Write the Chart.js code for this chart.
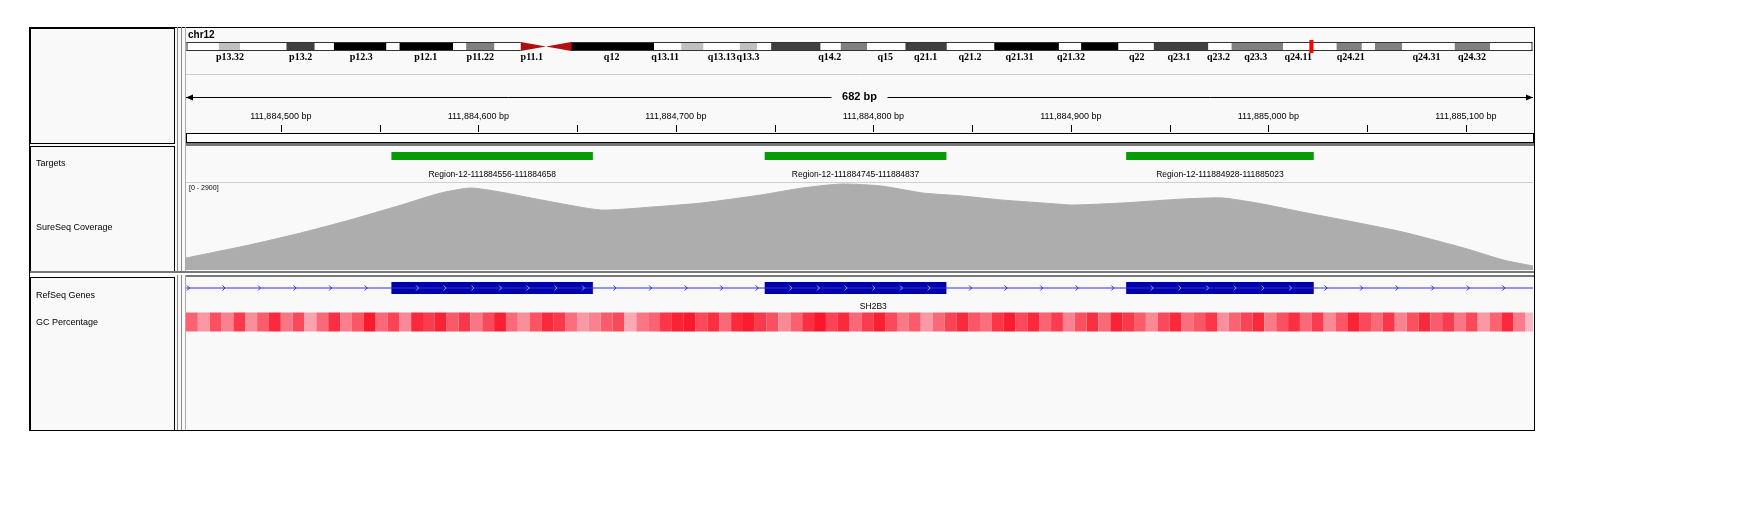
<!DOCTYPE html>
<html>
<head>
<meta charset="utf-8">
<script src="https://cdn.jsdelivr.net/npm/chart.js@4"></script>
<style>
html,body{margin:0;padding:0;background:#fff;}
#wrap{width:1756px;height:513px;position:relative;}
</style>
</head>
<body>
<div id="wrap"><canvas id="igv"></canvas></div>
<script>
// genomic window (chr12, offsets from 111,884,000)
var BASE = 111884000;
var viewStart = 452, viewEnd = 1134;
var tickLabels = [500, 600, 700, 800, 900, 1000, 1100];

// coverage (bp offset, depth)
var covPos = [452,484,510,535,561,581,596,611,632,662,688,713,743,764,784,804,825,845,865,886,901,926,957,977,997,1017,1038,1068,1099,1119,1134];
var covVal = [400,833,1233,1667,2167,2567,2733,2600,2333,2000,2100,2233,2500,2733,2867,2800,2567,2467,2333,2233,2167,2233,2367,2400,2200,1933,1667,1267,733,333,133];
var covMax = 2900;

// targets / exons
var targetStart = [556, 745, 928];
var targetEnd = [658, 837, 1023];
var targetNames = ["Region-12-111884556-111884658","Region-12-111884745-111884837","Region-12-111884928-111885023"];
var geneName = "SH2B3";

// GC percentage, one value per 6 bp (estimated)
var gcVal = [0.72,0.55,0.78,0.62,0.85,0.58,0.74,0.9,0.66,0.8,0.52,0.7,0.88,0.63,0.76,0.95,0.7,0.82,0.6,0.9,
  0.84,0.92,0.75,0.86,0.66,0.8,0.93,0.7,0.58,0.77,0.9,0.85,0.68,0.55,0.62,0.74,0.8,0.5,0.66,0.72,
  0.86,0.92,0.95,0.8,0.88,0.7,0.9,0.94,0.85,0.78,0.6,0.73,0.88,0.96,0.82,0.9,0.7,0.84,0.93,0.8,
  0.65,0.74,0.55,0.7,0.82,0.9,0.76,0.68,0.86,0.94,0.8,0.9,0.72,0.84,0.62,0.78,0.88,0.7,0.92,0.85,
  0.74,0.6,0.8,0.9,0.68,0.76,0.86,0.58,0.72,0.82,0.9,0.65,0.78,0.88,0.7,0.84,0.6,0.76,0.92,0.8,
  0.7,0.86,0.62,0.78,0.9,0.74,0.84,0.66,0.8,0.55,0.72,0.9,0.64,0.45];
var gcStep = 6;

// chr12 ideogram (Mb) and stain
var bandStart = [0,3.2,5.3,9.9,12.7,14.6,19.8,21.1,26.4,27.7,30.5,33.1,35.6,38.1,46.3,49.0,51.2,54.8,56.5,57.9,
  62.8,64.8,67.4,71.2,75.3,80.0,86.4,88.6,92.3,95.8,101.2,103.5,108.6,113.9,116.4,117.7,120.4,125.6,129.1];
var bandStain = ["w","g25","w","g75","w","k","w","k","w","g50","w","acen","acen","k","w","g25","w","g25","w","g75",
  "w","g50","w","g75","w","k","w","k","w","g75","w","g50","w","g50","w","g50","w","g50","w"];
var bandLabels = ["p13.32","p13.2","p12.3","p12.1","p11.22","p11.1","q12","q13.11","q13.13","q13.3","q14.2","q15",
  "q21.1","q21.2","q21.31","q21.32","q22","q23.1","q23.2","q23.3","q24.11","q24.21","q24.31","q24.32"];
var bandLabelMb = [4.3,11.3,17.3,23.7,29.1,34.2,42.1,47.4,53.0,55.6,63.7,69.2,73.2,77.6,82.5,87.6,94.1,98.3,102.2,105.9,110.1,115.3,122.8,127.3];
var chrLen = 133.3;
var bandMarker = 111.4;

var stainColor = {w:"#ffffff", g25:"#c0c0c0", g50:"#808080", g75:"#404040", k:"#000000", acen:"#b01010"};

// panel geometry (pixels)
var L = 186, R = 1533, TOP = 27, BOT = 430;
var covTop = 183, covBot = 270;
var yTarget = 156, yGene = 288, yGC = 322;

var pxPerUnit = covMax / (covBot - covTop);
var yMin = -(BOT - covBot) * pxPerUnit;
var yMax = covMax + (covTop - TOP) * pxPerUnit;
function rowVal(py){ return covMax - (py - covTop) * pxPerUnit; }

var covData = covPos.map(function(p,i){ return {x:p, y:covVal[i]}; });

var targetData = [];
targetStart.forEach(function(s,i){
  targetData.push({x:s, y:rowVal(yTarget)}, {x:targetEnd[i], y:rowVal(yTarget)}, {x:targetEnd[i], y:null});
});
var exonData = [];
targetStart.forEach(function(s,i){
  exonData.push({x:s, y:rowVal(yGene)}, {x:targetEnd[i], y:rowVal(yGene)}, {x:targetEnd[i], y:null});
});
var intronData = [{x:viewStart, y:rowVal(yGene)}, {x:viewEnd, y:rowVal(yGene)}];
var gcData = gcVal.map(function(v,i){ return {x:viewStart + i*gcStep, y:rowVal(yGC)}; });
gcData.push({x:viewEnd, y:rowVal(yGC)});

function gcColor(v){
  var t = Math.max(0, Math.min(1, (v-0.4)/0.6));
  var g = Math.round(200 - 190*t), b = Math.round(210 - 180*t);
  return "rgb(250," + g + "," + b + ")";
}

var font = "Arial, 'Liberation Sans', sans-serif";

var igvPlugin = {
  id: "igv",
  beforeDatasetsDraw: function(chart){
    var c = chart.ctx, x = chart.scales.x, xc = chart.scales.xc;
    c.save();
    c.fillStyle = "#f9f9f9";
    c.fillRect(29, 27, 1506, 404);
    c.strokeStyle = "#000"; c.lineWidth = 1;
    c.strokeRect(29.5, 27.5, 1505, 403);
    [[28,143],[146,271],[277,430]].forEach(function(r){
      c.strokeRect(30.5, r[0]+0.5, 144, r[1]-r[0]);
    });
    c.strokeStyle = "#888";
    c.beginPath(); c.moveTo(177.5,27); c.lineTo(177.5,430); c.moveTo(181.5,27); c.lineTo(181.5,430); c.stroke();
    c.strokeStyle = "#aaa";
    c.beginPath(); c.moveTo(185.5,27); c.lineTo(185.5,430); c.stroke();
    c.fillStyle = "#777";
    c.fillRect(186, 143, 1348, 3);
    c.fillRect(30, 271, 1504, 2);
    c.fillRect(186, 275, 1348, 2);
    c.fillStyle = "#fff";
    c.fillRect(30, 273, 1504, 2);

    // ideogram
    c.fillStyle = "#000"; c.font = "bold 10px " + font; c.textBaseline = "middle";
    c.textAlign = "left"; c.fillText("chr12", 188, 35);
    var iy = 42, ih = 9;
    for (var i = 0; i < bandStart.length; i++){
      var x0 = xc.getPixelForValue(bandStart[i]);
      var x1 = xc.getPixelForValue(i+1 < bandStart.length ? bandStart[i+1] : chrLen);
      c.fillStyle = stainColor[bandStain[i]];
      if (bandStain[i] === "acen"){
        c.beginPath();
        if (bandStain[i+1] === "acen"){ c.moveTo(x0, iy); c.lineTo(x1, iy+ih/2); c.lineTo(x0, iy+ih); }
        else { c.moveTo(x1, iy); c.lineTo(x0, iy+ih/2); c.lineTo(x1, iy+ih); }
        c.fill();
      } else {
        c.fillRect(x0, iy, x1-x0, ih);
      }
    }
    c.fillStyle = "#000"; c.font = "bold 10px 'Liberation Serif', serif"; c.textAlign = "center";
    bandLabels.forEach(function(n,i){ c.fillText(n, xc.getPixelForValue(bandLabelMb[i]), 57); });
    c.strokeStyle = "#333";
    var cenA = xc.getPixelForValue(bandStart[11]), cenB = xc.getPixelForValue(bandStart[13]);
    var c0 = xc.getPixelForValue(0), c1 = xc.getPixelForValue(chrLen);
    c.beginPath();
    c.moveTo(c0, iy+0.5); c.lineTo(cenA, iy+0.5);
    c.moveTo(c0, iy+ih-0.5); c.lineTo(cenA, iy+ih-0.5);
    c.moveTo(cenB, iy+0.5); c.lineTo(c1, iy+0.5);
    c.moveTo(cenB, iy+ih-0.5); c.lineTo(c1, iy+ih-0.5);
    c.moveTo(c0+0.5, iy); c.lineTo(c0+0.5, iy+ih);
    c.moveTo(c1-0.5, iy); c.lineTo(c1-0.5, iy+ih);
    c.stroke();
    c.fillStyle = "#ff0000";
    c.fillRect(xc.getPixelForValue(bandMarker)-2, iy-2, 4, ih+4);
    c.strokeStyle = "#ccc";
    c.beginPath(); c.moveTo(186, 74.5); c.lineTo(1533, 74.5); c.stroke();

    // ruler
    var mid = (L+R)/2;
    c.strokeStyle = "#000"; c.fillStyle = "#000";
    c.beginPath(); c.moveTo(L, 97.5); c.lineTo(mid-28, 97.5); c.moveTo(mid+28, 97.5); c.lineTo(R, 97.5); c.stroke();
    c.beginPath(); c.moveTo(L, 97.5); c.lineTo(L+7, 94.5); c.lineTo(L+7, 100.5); c.fill();
    c.beginPath(); c.moveTo(R, 97.5); c.lineTo(R-7, 94.5); c.lineTo(R-7, 100.5); c.fill();
    c.font = "bold 11px " + font; c.textAlign = "center";
    c.fillText((viewEnd - viewStart) + " bp", mid, 97);
    c.font = "9px " + font;
    for (var t = 500; t <= 1100; t += 50){
      var px = Math.round(x.getPixelForValue(t)) + 0.5;
      c.beginPath(); c.moveTo(px, 125); c.lineTo(px, 132); c.stroke();
    }
    tickLabels.forEach(function(t){
      c.fillText((BASE + t).toLocaleString("en-US") + " bp", x.getPixelForValue(t), 117);
    });
    c.strokeStyle = "#000";
    c.strokeRect(186.5, 133.5, 1347, 9);
    c.fillStyle = "#fff"; c.fillRect(187, 134, 1346, 8);

    // track names
    c.fillStyle = "#000"; c.font = "9px " + font; c.textAlign = "left";
    c.fillText("Targets", 36, 164);
    c.fillText("SureSeq Coverage", 36, 228);
    c.fillText("RefSeq Genes", 36, 296);
    c.fillText("GC Percentage", 36, 323);

    c.textAlign = "center"; c.font = "8.5px " + font;
    targetStart.forEach(function(s,i){
      c.fillText(targetNames[i], x.getPixelForValue((s+targetEnd[i])/2), 175);
    });
    c.strokeStyle = "#d0d0d0";
    c.beginPath(); c.moveTo(186, 182.5); c.lineTo(1533, 182.5); c.stroke();
    c.textAlign = "left"; c.font = "7px " + font;
    c.fillText("[0 - " + covMax + "]", 189, 188);
    c.font = "8.5px " + font; c.textAlign = "center";
    c.fillText(geneName, x.getPixelForValue(800), 307);
    c.restore();
  },
  afterDatasetsDraw: function(chart){
    var c = chart.ctx, x = chart.scales.x;
    c.save();
    c.lineWidth = 1;
    for (var p = 453; p < viewEnd; p += 18){
      var px = x.getPixelForValue(p);
      var inExon = targetStart.some(function(s,i){ return p > s && p < targetEnd[i]; });
      if (inExon) continue;
      c.strokeStyle = "#2a2ae0";
      c.beginPath(); c.moveTo(px-1, yGene-2.5); c.lineTo(px+1.5, yGene); c.lineTo(px-1, yGene+2.5); c.stroke();
    }
    targetStart.forEach(function(s,i){
      for (var p = s + 13; p < targetEnd[i] - 4; p += 14){
        var px = x.getPixelForValue(p);
        c.strokeStyle = "#9aa0ff";
        c.beginPath(); c.moveTo(px-1, yGene-2.5); c.lineTo(px+1.5, yGene); c.lineTo(px-1, yGene+2.5); c.stroke();
      }
    });
    c.restore();
  }
};

new Chart(document.getElementById("igv"), {
  type: "line",
  data: {
    datasets: [
      {data: gcData, borderWidth: 19, pointRadius: 0, borderCapStyle: "butt",
       segment: {borderColor: function(ctx){ return gcColor(gcVal[ctx.p0DataIndex]); }}},
      {data: intronData, borderColor: "#3030e0", borderWidth: 1, pointRadius: 0},
      {data: exonData, borderColor: "#0000aa", borderWidth: 12, pointRadius: 0, borderCapStyle: "butt", spanGaps: false},
      {data: targetData, borderColor: "#079b07", borderWidth: 8, pointRadius: 0, borderCapStyle: "butt", spanGaps: false},
      {data: covData, borderColor: "#adadad", backgroundColor: "#adadad", borderWidth: 1,
       pointRadius: 0, fill: {value: 0}, tension: 0.2}
    ]
  },
  options: {
    responsive: true, maintainAspectRatio: false, animation: false,
    layout: {padding: {left: L, right: 1756 - R, top: TOP, bottom: 513 - BOT}},
    plugins: {legend: {display: false}, tooltip: {enabled: false}},
    scales: {
      x: {type: "linear", min: viewStart, max: viewEnd, display: false},
      xc: {type: "linear", min: -0.05, max: chrLen + 0.05, display: false},
      y: {type: "linear", min: yMin, max: yMax, display: false}
    }
  },
  plugins: [igvPlugin]
});
</script>
</body>
</html>
